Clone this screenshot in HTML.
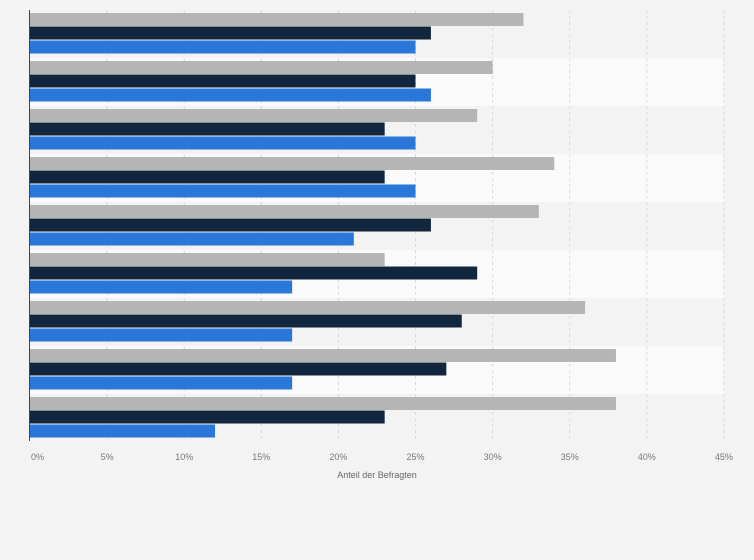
<!DOCTYPE html>
<html><head><meta charset="utf-8"><style>
body{margin:0;background:#f3f3f3;font-family:"Liberation Sans",sans-serif;}
svg{display:block}
</style></head><body>
<svg id="c" width="754" height="560"></svg>
<script>
const categories=["G1","G2","G3","G4","G5","G6","G7","G8","G9"];
const seriesGray=[32,30,29,34,33,23,36,38,38];
const seriesNavy=[26,25,23,23,26,29,28,27,23];
const seriesBlue=[25,26,25,25,21,17,17,17,12];
const tickValues=[0,5,10,15,20,25,30,35,40,45];
const tickLabels=["0%","5%","10%","15%","20%","25%","30%","35%","40%","45%"];
const NS="http://www.w3.org/2000/svg";
const svg=document.getElementById('c');
const x0=30,pxPer=15.42,top0=10,gH=48;
const xs=v=>x0+v*pxPer;
function mk(t,a){const e=document.createElementNS(NS,t);for(const k in a)e.setAttribute(k,a[k]);svg.appendChild(e);return e;}
categories.forEach((c,i)=>{
 const b=mk('rect',{x:x0,y:top0+i*gH,width:xs(45)-x0,height:gH,fill:i%2?'#fafafa':'#f3f3f3'});
 
 
});
tickValues.forEach((v,i)=>{
 if(v>0){const l=mk('line',{x1:xs(v),x2:xs(v),y1:top0,y2:441,stroke:'#d8d8d8','stroke-dasharray':'3,3'});
 
 }
 const t=mk('text',{x:v===0?31:xs(v),y:460,'font-size':9,fill:'#777','text-anchor':v===0?'start':'middle'});
 t.textContent=tickLabels[i];
 
 
});
const series=[[seriesGray,'#b5b5b5',3],[seriesNavy,'#10263d',16.5],[seriesBlue,'#2877d9',30.5]];
series.forEach(([vals,col,off])=>{
 vals.forEach((v,i)=>{
  const r=mk('rect',{x:x0,y:top0+i*gH+off,width:xs(v)-x0,height:13,fill:col});
  
  
 });
});
const ax=mk('line',{x1:29.5,x2:29.5,y1:top0,y2:441,stroke:'#444','stroke-width':1});


const tt=mk('text',{x:377,y:478,'font-size':9,fill:'#666','text-anchor':'middle'});
tt.textContent='Anteil der Befragten';


</script>
</body></html>
